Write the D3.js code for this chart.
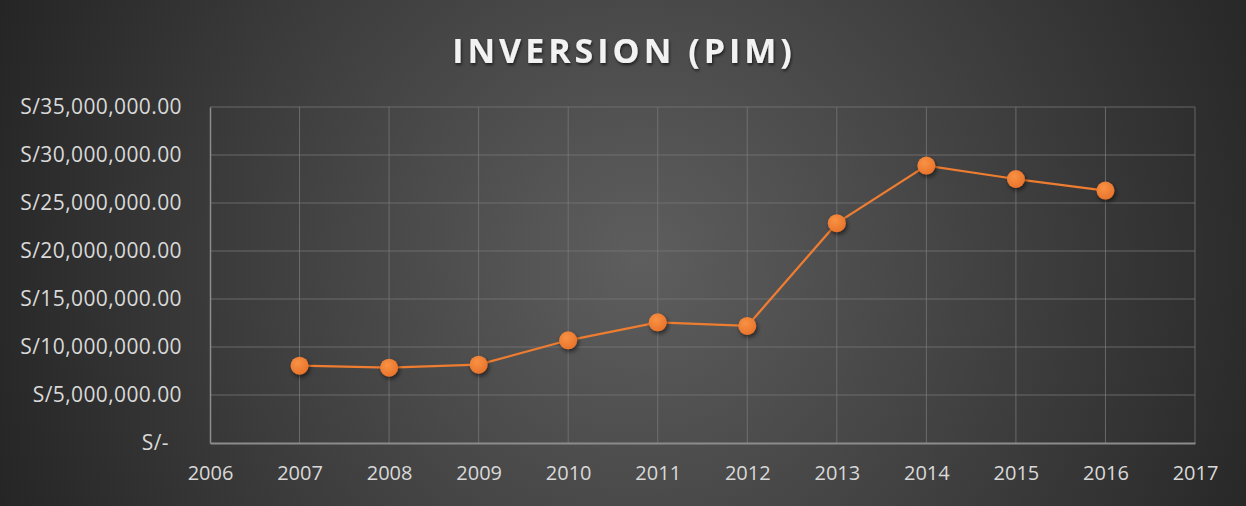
<!DOCTYPE html>
<html>
<head>
<meta charset="utf-8">
<script src="https://cdn.jsdelivr.net/npm/d3@7"></script>
<style>
  body { margin: 0; background: #2b2b2b; }
  svg { display: block; font-family: "Open Sans", sans-serif; }
</style>
</head>
<body>
<svg id="chart" width="1246" height="506"></svg>
<script>
// data
var years = [2007, 2008, 2009, 2010, 2011, 2012, 2013, 2014, 2015, 2016];
var pim = [8050000, 7840000, 8160000, 10700000, 12570000, 12200000, 22900000, 28900000, 27500000, 26300000];
var yTicks = [0, 5000000, 10000000, 15000000, 20000000, 25000000, 30000000, 35000000];
var yTickLabels = ["S/-", "S/5,000,000.00", "S/10,000,000.00", "S/15,000,000.00", "S/20,000,000.00",
                   "S/25,000,000.00", "S/30,000,000.00", "S/35,000,000.00"];
var xTicks = [2006, 2007, 2008, 2009, 2010, 2011, 2012, 2013, 2014, 2015, 2016, 2017];
var title = "INVERSION (PIM)";

function main() {
  var svg = d3.select("#chart"),
    width = +svg.attr("width"),
    height = +svg.attr("height");

  var left = 210, right = 1195, top = 107, bottom = 443;

  var defs = svg.append("defs");
  var bg = defs.append("radialGradient").attr("id", "bg")
    .attr("gradientUnits", "userSpaceOnUse")
    .attr("cx", 640).attr("cy", 260).attr("r", 700);
  bg.append("stop").attr("offset", "0%").attr("stop-color", "#5e5e5e");
  bg.append("stop").attr("offset", "100%").attr("stop-color", "#242424");

  var dot = defs.append("radialGradient").attr("id", "dot")
    .attr("cx", "40%").attr("cy", "35%").attr("r", "70%");
  dot.append("stop").attr("offset", "0%").attr("stop-color", "#f89244");
  dot.append("stop").attr("offset", "100%").attr("stop-color", "#e8722a");

  var sh = defs.append("filter").attr("id", "shadow")
    .attr("x", "-50%").attr("y", "-50%").attr("width", "200%").attr("height", "200%");
  sh.append("feDropShadow").attr("dx", 1.5).attr("dy", 2.5).attr("stdDeviation", 2)
    .attr("flood-color", "#000").attr("flood-opacity", 0.55);

  var tsh = defs.append("filter").attr("id", "tshadow");
  tsh.append("feDropShadow").attr("dx", 1).attr("dy", 2).attr("stdDeviation", 1.5)
    .attr("flood-color", "#000").attr("flood-opacity", 0.6);

  svg.append("rect").attr("width", width).attr("height", height).attr("fill", "url(#bg)");

  var x = d3.scaleLinear().domain([2006, 2017]).range([left, right]);
  var y = d3.scaleLinear().domain([0, 35000000]).range([bottom, top]);

  // gridlines
  var g = svg.append("g");
  g.selectAll(".hgrid").data(yTicks.slice(1)).enter().append("line")
    .attr("x1", left).attr("x2", right)
    .attr("y1", function(d) { return y(d); }).attr("y2", function(d) { return y(d); })
    .attr("stroke", "#7a7a7a").attr("stroke-opacity", 0.75).attr("stroke-width", 1);
  g.selectAll(".vgrid").data(xTicks.slice(1)).enter().append("line")
    .attr("x1", function(d) { return x(d); }).attr("x2", function(d) { return x(d); })
    .attr("y1", top).attr("y2", bottom)
    .attr("stroke", "#7a7a7a").attr("stroke-opacity", 0.75).attr("stroke-width", 1);

  // axes
  var xAxis = svg.append("g").attr("transform", "translate(0," + bottom + ")")
    .call(d3.axisBottom(x).tickValues(xTicks).tickFormat(d3.format("d")).tickSize(0).tickPadding(23));
  xAxis.select(".domain").attr("stroke", "#8c8c8c").attr("stroke-width", 2);
  xAxis.selectAll("text").attr("fill", "#d9d9d9").attr("font-size", 20)
    .attr("font-family", "'Open Sans', sans-serif");

  var yAxis = svg.append("g").attr("transform", "translate(" + left + ",0)")
    .call(d3.axisLeft(y).tickValues(yTicks)
      .tickFormat(function(d, i) { return yTickLabels[i]; })
      .tickSize(0).tickPadding(28));
  yAxis.select(".domain").attr("stroke", "#8c8c8c").attr("stroke-width", 1.5);
  yAxis.selectAll("text").attr("fill", "#d9d9d9").attr("font-size", 21)
    .attr("letter-spacing", 0.4)
    .attr("font-family", "'Open Sans', sans-serif")
    .attr("dx", function(d) { return d === 0 ? -13 : 0; });

  // line
  var line = d3.line()
    .x(function(d, i) { return x(years[i]); })
    .y(function(d) { return y(d); });

  svg.append("path").datum(pim)
    .attr("d", line)
    .attr("fill", "none")
    .attr("stroke", "#ee7d31")
    .attr("stroke-width", 2.25);

  svg.selectAll(".pt").data(pim).enter().append("circle")
    .attr("cx", function(d, i) { return x(years[i]); })
    .attr("cy", function(d) { return y(d); })
    .attr("r", 9)
    .attr("fill", "url(#dot)")
    .attr("filter", "url(#shadow)");

  // title
  svg.append("text")
    .attr("x", 624).attr("y", 63)
    .attr("text-anchor", "middle")
    .attr("fill", "#f2f2f2")
    .attr("font-size", 34)
    .attr("font-weight", "bold")
    .attr("letter-spacing", 4)
    .attr("filter", "url(#tshadow)")
    .text(title);
}

main();
</script>
</body>
</html>
